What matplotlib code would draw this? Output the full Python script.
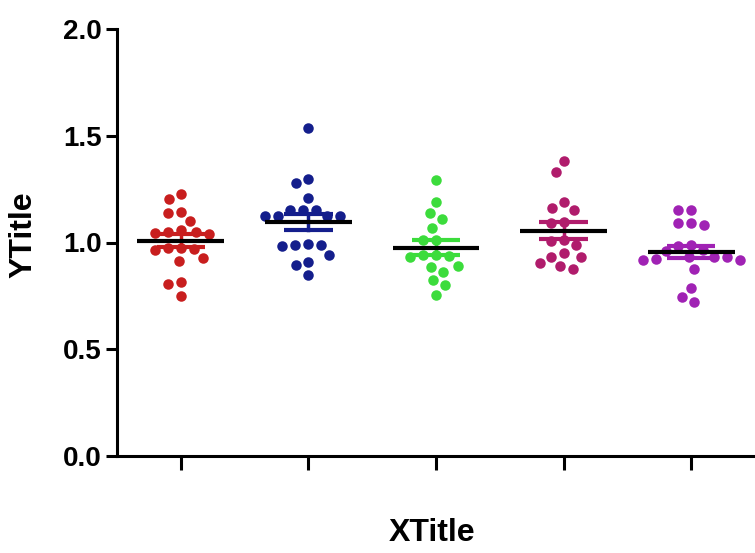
import numpy as np
import matplotlib
matplotlib.use("Agg")
import matplotlib.pyplot as plt

categories = ["A", "B", "C", "D", "E"]
colors = ["#C81E1E", "#141E8C", "#3CDC3C", "#B01C6C", "#A022B4"]

group1 = [1.227, 1.202, 1.144, 1.137, 1.102, 1.059, 1.05, 1.048, 1.045, 1.04,
          0.975, 0.972, 0.97, 0.965, 0.927, 0.915, 0.816, 0.806, 0.749]
group2 = [1.535, 1.296, 1.277, 1.207, 1.152, 1.152, 1.152, 1.124, 1.124, 1.124,
          1.124, 0.99, 0.985, 0.99, 0.995, 0.941, 0.91, 0.895, 0.848]
group3 = [1.293, 1.191, 1.137, 1.109, 1.069, 1.01, 1.01, 0.94, 0.935, 0.93,
          0.94, 0.89, 0.884, 0.863, 0.824, 0.801, 0.754]
group4 = [1.383, 1.332, 1.191, 1.16, 1.152, 1.097, 1.09, 1.01, 1.005, 0.99,
          0.949, 0.934, 0.934, 0.902, 0.89, 0.874]
group5 = [1.152, 1.152, 1.09, 1.08, 1.09, 0.99, 0.985, 0.93, 0.92, 0.925,
          0.93, 0.92, 0.93, 0.874, 0.785, 0.723, 0.743, 0.96, 0.965]
groups = [group1, group2, group3, group4, group5]

yticks = [0.0, 0.5, 1.0, 1.5, 2.0]
ytick_labels = ["0.0", "0.5", "1.0", "1.5", "2.0"]

plt.rcParams['font.family'] = ['Liberation Sans', 'DejaVu Sans']

W, H, DPI = 755, 553, 100
fig = plt.figure(figsize=(W / DPI, H / DPI), dpi=DPI)
left, right, bottom, top = 117 / W, 1.0, (H - 456) / H, (H - 29) / H
ax = fig.add_axes([left, bottom, right - left, top - bottom])
ax.set_xlim(0.5, 5.5)
ax.set_ylim(0, 2.0)

# pixel scale for swarm layout
px_per_x = (right - left) * W / 5.0
px_per_y = (top - bottom) * H / 2.0
spacing = 13.0  # layout spacing between dot centres, px
diam = 10.5     # marker diameter, px


def swarm(values):
    ys = np.asarray(values) * px_per_y
    order = np.argsort(ys)[::-1]
    placed = []
    xs = np.zeros(len(ys))
    for i in order:
        y = ys[i]
        cands = [0.0]
        for (px, py) in placed:
            dy = abs(py - y)
            if dy < spacing:
                dx = np.sqrt(spacing ** 2 - dy ** 2)
                cands += [px + dx, px - dx]
        cands = sorted(cands, key=lambda c: (abs(c), c))
        for c in cands:
            ok = True
            for (px, py) in placed:
                if (px - c) ** 2 + (py - y) ** 2 < spacing ** 2 - 1e-6:
                    ok = False
                    break
            if ok:
                xs[i] = c
                placed.append((c, y))
                break
    return xs / px_per_x


ms = diam * 72 / DPI
for k, (vals, col) in enumerate(zip(groups, colors)):
    pos = k + 1
    offs = swarm(vals)
    vals = np.asarray(vals)
    m = vals.mean()
    sem = vals.std(ddof=1) / np.sqrt(len(vals))
    ax.plot([pos, pos], [m - sem, m + sem], color=col, lw=2.5, zorder=2)
    ax.plot(pos + offs, vals, 'o', color=col, ms=ms, mec='none', zorder=3)
    for yy in (m - sem, m + sem):
        ax.plot([pos - 0.19, pos + 0.19], [yy, yy], color=col, lw=3, zorder=4,
                solid_capstyle='butt')
    ax.plot([pos - 0.34, pos + 0.34], [m, m], color='black', lw=3, zorder=5,
            solid_capstyle='butt')

for s in ['top', 'right']:
    ax.spines[s].set_visible(False)
for s in ['left', 'bottom']:
    ax.spines[s].set_linewidth(2.2)

ax.set_xticks(range(1, 6))
ax.set_xticklabels([])
ax.tick_params(axis='x', length=10, width=2.2, direction='out')
ax.set_yticks(yticks)
ax.set_yticklabels(ytick_labels, fontsize=20, fontweight='bold')
ax.tick_params(axis='y', length=8, width=2.2, direction='out', pad=3)

fig.text(432 / W, 1 - 533 / H, "XTitle", fontsize=23, fontweight='bold',
         ha='center', va='center')
fig.text(23 / W, 1 - 235 / H, "YTitle", fontsize=23, fontweight='bold',
         ha='center', va='center', rotation=90)

fig.savefig("out.png", dpi=DPI)
